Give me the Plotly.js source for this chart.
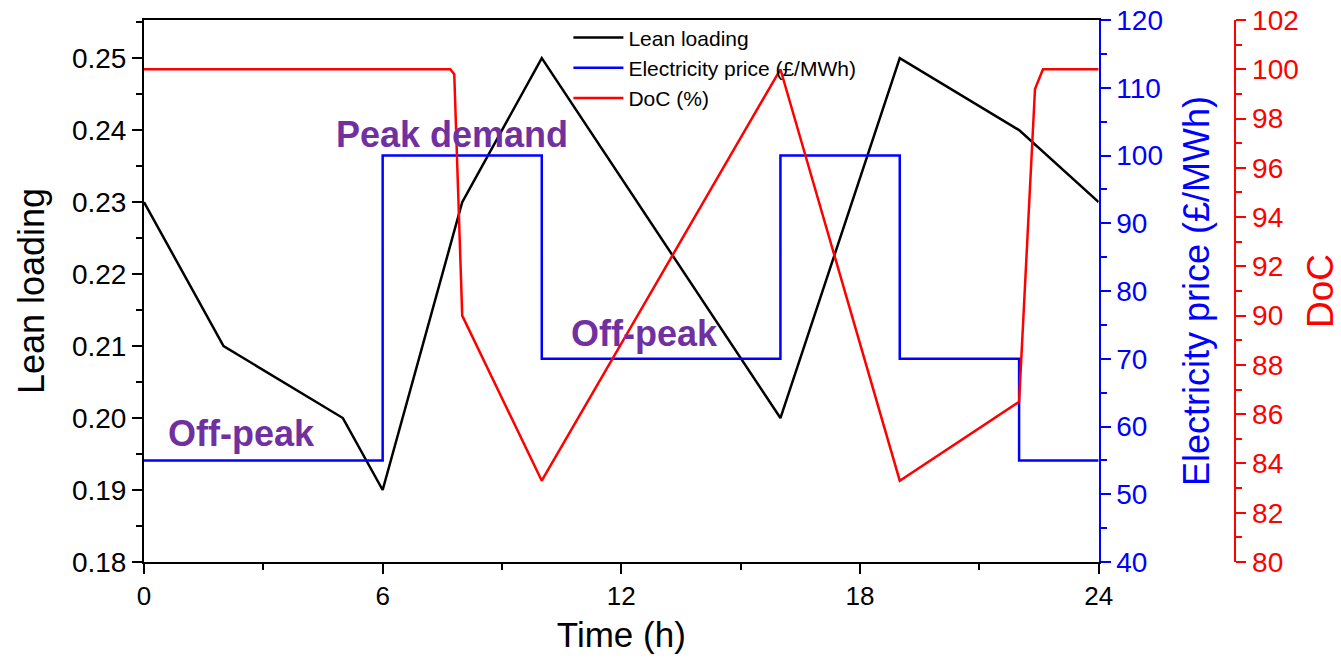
<!DOCTYPE html>
<html>
<head>
<meta charset="utf-8">
<script src="https://cdn.plot.ly/plotly-3.0.1.min.js"></script>
<style>html,body{margin:0;padding:0;background:#fff;}#chart{width:1341px;height:660px;}</style>
</head>
<body>
<div id="chart"></div>
<script>
// Lean loading (left axis)
const leanHours = [0, 2, 5, 6, 8, 10, 16, 19, 22, 24];
const leanLoading = [0.23, 0.21, 0.20, 0.19, 0.23, 0.25, 0.20, 0.25, 0.24, 0.23];

// Electricity price (£/MWh), step function (blue axis)
const priceHours = [0, 6, 10, 16, 19, 22, 24];
const priceValues = [55, 100, 70, 100, 70, 55, 55];

// DoC (%) (red axis)
const docHours = [0, 7.7, 7.8, 8, 10, 16, 19, 22, 22.4, 22.6, 24];
const docValues = [100, 100, 99.8, 90, 83.3, 100, 83.3, 86.5, 99.2, 100, 100];

const xTicks = [0, 6, 12, 18, 24];

const FONT = 'Liberation Sans, Arial, sans-serif';
const PURPLE = '#7030A0';

const traces = [
  {x: leanHours, y: leanLoading, name: 'Lean loading', type: 'scatter', mode: 'lines',
   line: {color: '#000000', width: 2.5}, yaxis: 'y'},
  {x: priceHours, y: priceValues, name: 'Electricity price (£/MWh)', type: 'scatter', mode: 'lines',
   line: {color: '#0000FF', width: 2.5, shape: 'hv'}, yaxis: 'y2'},
  {x: docHours, y: docValues, name: 'DoC (%)', type: 'scatter', mode: 'lines',
   line: {color: '#FF0000', width: 2.5}, yaxis: 'y3'}
];

const layout = {
  width: 1341, height: 660,
  margin: {l: 144, r: 50, t: 20, b: 98},
  paper_bgcolor: '#ffffff', plot_bgcolor: '#ffffff',
  font: {family: FONT, color: '#000000'},
  showlegend: true,
  legend: {x: 0.37, y: 1.005, xanchor: 'left', yanchor: 'top', bgcolor: 'rgba(0,0,0,0)',
           font: {size: 21, color: '#000000'}, tracegroupgap: 0, itemwidth: 50},
  xaxis: {
    domain: [0, 0.8323], range: [0, 24], tickvals: xTicks, ticktext: xTicks.map(String),
    ticks: 'outside', ticklen: 10, tickwidth: 2, tickcolor: '#000',
    minor: {dtick: 3, tick0: 0, ticks: 'outside', ticklen: 6, tickwidth: 2, tickcolor: '#000'},
    showline: true, linecolor: '#000', linewidth: 2, mirror: true,
    showgrid: false, zeroline: false,
    tickfont: {size: 26, color: '#000'},
    title: {text: 'Time (h)', font: {size: 35, color: '#000'}, standoff: 12}
  },
  yaxis: {
    range: [0.18, 0.2553], dtick: 0.01, tick0: 0.18, tickformat: '.2f',
    ticks: 'outside', ticklen: 10, tickwidth: 2, tickcolor: '#000',
    minor: {dtick: 0.005, tick0: 0.18, ticks: 'outside', ticklen: 6, tickwidth: 2, tickcolor: '#000'},
    showline: true, linecolor: '#000', linewidth: 2,
    showgrid: false, zeroline: false,
    tickfont: {size: 28, color: '#000'},
    title: {text: 'Lean loading', font: {size: 36, color: '#000'}, standoff: 16}
  },
  yaxis2: {
    overlaying: 'y', side: 'right', anchor: 'x',
    range: [40, 120], dtick: 10, tick0: 40,
    ticks: 'outside', ticklen: 10, tickwidth: 2, tickcolor: '#0000FF',
    minor: {dtick: 5, tick0: 40, ticks: 'outside', ticklen: 6, tickwidth: 2, tickcolor: '#0000FF'},
    showline: true, linecolor: '#0000FF', linewidth: 2,
    showgrid: false, zeroline: false,
    tickfont: {size: 28, color: '#0000FF'},
    title: {text: 'Electricity price (£/MWh)', font: {size: 36, color: '#0000FF'}, standoff: 22}
  },
  yaxis3: {
    overlaying: 'y', side: 'right', anchor: 'free', position: 0.9516,
    range: [80, 102], dtick: 2, tick0: 80,
    ticks: 'outside', ticklen: 10, tickwidth: 2, tickcolor: '#FF0000',
    minor: {dtick: 1, tick0: 80, ticks: 'outside', ticklen: 6, tickwidth: 2, tickcolor: '#FF0000'},
    showline: true, linecolor: '#FF0000', linewidth: 2,
    showgrid: false, zeroline: false,
    tickfont: {size: 28, color: '#FF0000'},
    title: {text: 'DoC', font: {size: 37, color: '#FF0000'}, standoff: 12}
  },
  annotations: [
    {text: '<b>Peak demand</b>', x: 7.74, y: 0.2394, xref: 'x', yref: 'y', showarrow: false,
     font: {size: 36, color: PURPLE, family: FONT}},
    {text: '<b>Off-peak</b>', x: 12.59, y: 0.2118, xref: 'x', yref: 'y', showarrow: false,
     font: {size: 36, color: PURPLE, family: FONT}},
    {text: '<b>Off-peak</b>', x: 2.44, y: 0.1979, xref: 'x', yref: 'y', showarrow: false,
     font: {size: 36, color: PURPLE, family: FONT}}
  ]
};

Plotly.newPlot('chart', traces, layout, {displayModeBar: false, staticPlot: true});
</script>
</body>
</html>
